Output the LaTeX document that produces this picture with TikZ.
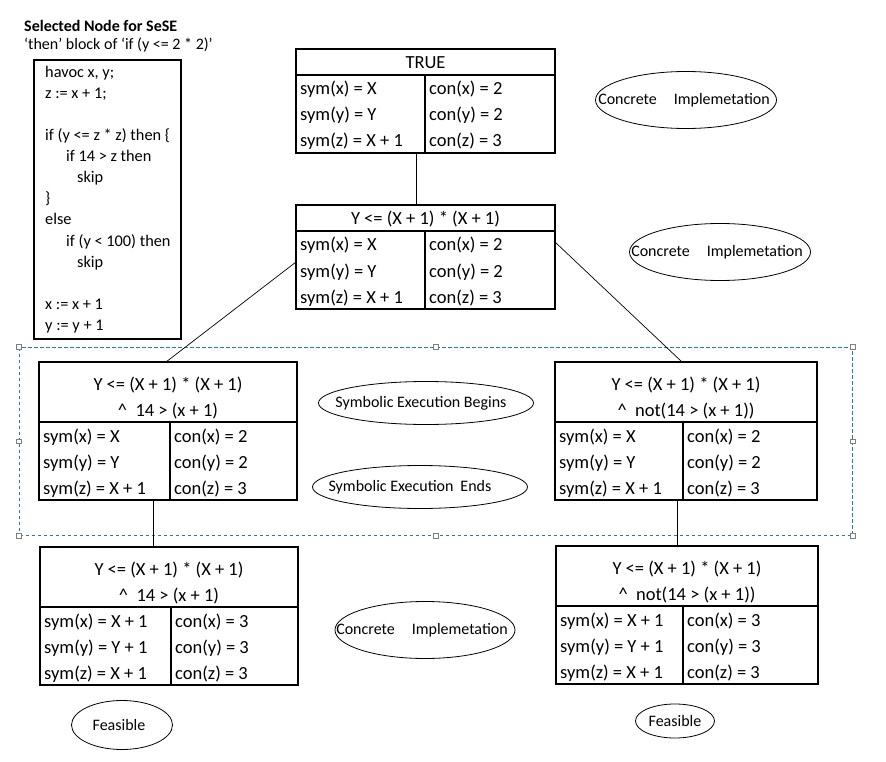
\documentclass[tikz,border=0pt]{standalone}
\usepackage{fontspec}
\setmainfont{Carlito}
\usetikzlibrary{shapes.geometric,calc}

\definecolor{regionblue}{RGB}{46,117,182}

\tikzset{
  boxline/.style={draw=black, line width=1.1pt},
  cellbox/.style={boxline, rectangle, inner sep=0pt, outer sep=0pt, anchor=north west},
  celltext/.style={font=\fontsize{18.5}{22}\selectfont, inner sep=0pt, anchor=base west},
  headtext/.style={font=\fontsize{18.5}{22}\selectfont, inner sep=0pt, anchor=base},
  codetext/.style={font=\fontsize{16.3}{20}\selectfont, inner sep=0pt, anchor=base west},
  note/.style={ellipse, draw=black, line width=0.8pt, inner sep=0pt},
  notetext/.style={font=\fontsize{16}{20}\selectfont, inner sep=0pt},
  link/.style={draw=black, line width=1pt},
  slantlink/.style={draw=black, line width=0.7pt},
  region/.style={draw=regionblue, line width=1pt, dash pattern=on 3.5pt off 2.5pt,
                 rectangle, inner sep=0pt, anchor=north west},
  grip/.style={draw=gray, fill=white, line width=0.6pt, minimum size=4.5pt,
               inner sep=0pt, rectangle},
}

% State box: [#1 header baseline offset] name, x left, x divider, x right,
% y top, y header bottom, header lines, rows (sym/con)
\newcommand\statebox[9][19.5]{%
  \node[cellbox, minimum width={(#5-#3)*1pt}, minimum height={(#7-#6)*1pt}] (#2-h) at (#3,#6) {};
  \node[cellbox, minimum width={(#4-#3)*1pt}, minimum height=78pt] (#2-l) at (#3,#7) {};
  \node[cellbox, minimum width={(#5-#4)*1pt}, minimum height=78pt] (#2-r) at (#4,#7) {};
  \foreach \t [count=\i] in {#8} {
    \pgfmathsetmacro\yb{#6+#1+26*(\i-1)}
    \node[headtext] (#2-t\i) at ({(#3+#5)/2},\yb) {\t};
  }
  \foreach \s/\c [count=\i] in {#9} {
    \pgfmathsetmacro\yb{#7+20+26*(\i-1)}
    \node[celltext] (#2-s\i) at ({#3+4},\yb) {\s};
    \node[celltext] (#2-c\i) at ({#4+4},\yb) {\c};
  }
}

\begin{document}
\begin{tikzpicture}[x=1pt, y=-1pt]
  \useasboundingbox (0,0) rectangle (886,762);
  \fill[white] (0,0) rectangle (886,762);

  % heading and program text
  \node[font=\bfseries\fontsize{16}{20}\selectfont, anchor=base west, inner sep=0pt] (title) at (24,32) {Selected Node for SeSE};
  \node[font=\fontsize{16}{20}\selectfont, anchor=base west, inner sep=0pt] (subtitle) at (24,50) {‘then’ block of ‘if (y <= 2 * 2)’};

  \node[cellbox, minimum width=147pt, minimum height=279pt] (code) at (34,60) {};
  \foreach \dx/\t [count=\i] in {
      0/{havoc x, y;}, 0/{z := x + 1;}, 0/{}, 0/{if (y <= z * z) then \{},
      21/{if 14 > z then}, 32/{skip}, 0/{\}}, 0/{else}, 21/{if (y < 100) then},
      32/{skip}, 0/{}, 0/{x := x + 1}, 0/{y := y + 1}} {
    \pgfmathsetmacro\yb{78+21*(\i-1)}
    \node[codetext] (code-\i) at ({45+\dx},\yb) {\t};
  }

  % region of symbolic execution
  \node[region, minimum width=833pt, minimum height=188pt] (sese) at (19,347) {};
  \foreach \a in {north west, north, north east, west, east, south west, south, south east}
    \node[grip] (grip-\a) at (sese.\a) {};

  % state boxes
  \statebox{t}{296}{425}{555}{49}{75}{TRUE}
    {sym(x) = X/con(x) = 2, sym(y) = Y/con(y) = 2, sym(z) = X + 1/con(z) = 3}
  \statebox{m}{296}{425}{555}{205}{231}{Y <= (X + 1) * (X + 1)}
    {sym(x) = X/con(x) = 2, sym(y) = Y/con(y) = 2, sym(z) = X + 1/con(z) = 3}
  \statebox[28]{lm}{39}{170}{297}{362}{422}
    {Y <= (X + 1) * (X + 1), \textasciicircum\ \ 14 > (x + 1)}
    {sym(x) = X/con(x) = 2, sym(y) = Y/con(y) = 2, sym(z) = X + 1/con(z) = 3}
  \statebox[28]{rm}{555}{683}{817}{362}{422}
    {Y <= (X + 1) * (X + 1), \textasciicircum\ \ not(14 > (x + 1))}
    {sym(x) = X/con(x) = 2, sym(y) = Y/con(y) = 2, sym(z) = X + 1/con(z) = 3}
  \statebox[28]{bl}{40}{171}{298}{547}{607}
    {Y <= (X + 1) * (X + 1), \textasciicircum\ \ 14 > (x + 1)}
    {sym(x) = X + 1/con(x) = 3, sym(y) = Y + 1/con(y) = 3, sym(z) = X + 1/con(z) = 3}
  \statebox[28]{br}{556}{683}{818}{546}{606}
    {Y <= (X + 1) * (X + 1), \textasciicircum\ \ not(14 > (x + 1))}
    {sym(x) = X + 1/con(x) = 3, sym(y) = Y + 1/con(y) = 3, sym(z) = X + 1/con(z) = 3}

  % connectors
  \coordinate (tm) at (416,0);
  \coordinate (lb) at (153,0);
  \coordinate (rb) at (677,0);
  \draw[link] (t-l.south -| tm) -- (m-h.north -| tm);
  \draw[slantlink] ($(m-l.north west)+(0,31)$) -- ($(lm-h.north west)+(127,0)$);
  \draw[slantlink] ($(m-r.north east)+(0,11)$) -- ($(rm-h.north west)+(127,0)$);
  \draw[link] (lm-l.south -| lb) -- (bl-h.north -| lb);
  \draw[link] (rm-r.south -| rb) -- (br-h.north -| rb);

  % annotations
  \node[note, minimum width=181pt, minimum height=57pt,
        label={[notetext, xshift=-2pt]center:Concrete\hspace{17pt}Implemetation}] (ci1) at (686,100) {};
  \node[note, minimum width=181pt, minimum height=57pt,
        label={[notetext, xshift=-3pt]center:Concrete\hspace{17pt}Implemetation}] (ci2) at (720,252) {};
  \node[note, minimum width=215pt, minimum height=43pt,
        label={[notetext, xshift=-5pt]center:Symbolic Execution Begins}] (seb) at (426,403) {};
  \node[note, minimum width=215pt, minimum height=43pt,
        label={[notetext, xshift=-10pt]center:Symbolic Execution\hspace{7pt}Ends}] (see) at (420,487) {};
  \node[note, minimum width=180pt, minimum height=57pt,
        label={[notetext, xshift=-3pt]center:Concrete\hspace{17pt}Implemetation}] (ci3) at (425,630) {};
  \node[note, minimum width=101pt, minimum height=49pt,
        label={[notetext, xshift=-3pt]center:Feasible}] (f1) at (122,725) {};
  \node[note, minimum width=79pt, minimum height=34pt,
        label={[notetext]center:Feasible}] (f2) at (675,721) {};
\end{tikzpicture}
\end{document}
